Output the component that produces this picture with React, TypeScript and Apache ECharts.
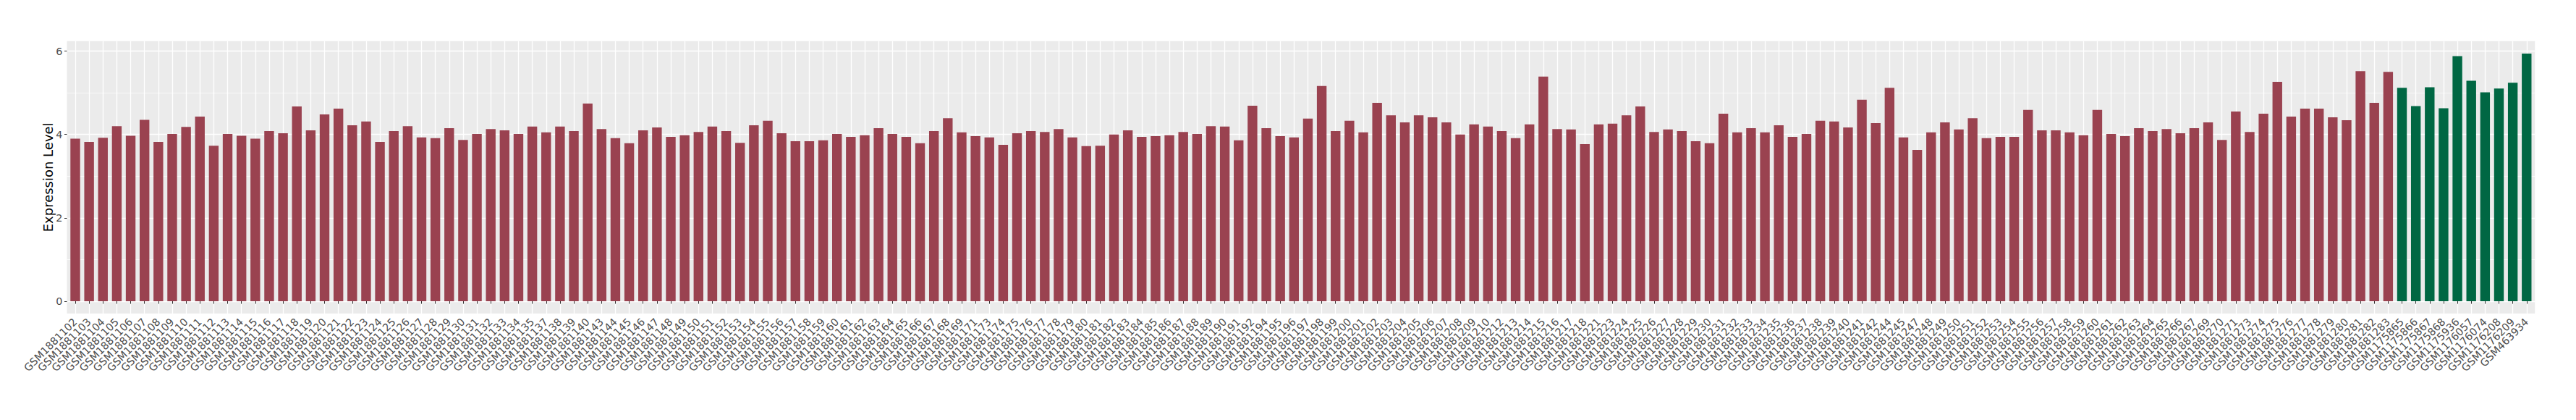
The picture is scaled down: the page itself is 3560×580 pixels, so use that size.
import React, { useEffect, useRef } from "react";
import * as echarts from "echarts";

const redSamples = [
  "GSM1881102","GSM1881103","GSM1881104","GSM1881105","GSM1881106","GSM1881107","GSM1881108","GSM1881109","GSM1881110","GSM1881111",
  "GSM1881112","GSM1881113","GSM1881114","GSM1881115","GSM1881116","GSM1881117","GSM1881118","GSM1881119","GSM1881120","GSM1881121",
  "GSM1881122","GSM1881123","GSM1881124","GSM1881125","GSM1881126","GSM1881127","GSM1881128","GSM1881129","GSM1881130","GSM1881131",
  "GSM1881132","GSM1881133","GSM1881134","GSM1881135","GSM1881137","GSM1881138","GSM1881139","GSM1881140","GSM1881143","GSM1881144",
  "GSM1881145","GSM1881146","GSM1881147","GSM1881148","GSM1881149","GSM1881150","GSM1881151","GSM1881152","GSM1881153","GSM1881154",
  "GSM1881155","GSM1881156","GSM1881157","GSM1881158","GSM1881159","GSM1881160","GSM1881161","GSM1881162","GSM1881163","GSM1881164",
  "GSM1881165","GSM1881166","GSM1881167","GSM1881168","GSM1881169","GSM1881171","GSM1881173","GSM1881174","GSM1881175","GSM1881176",
  "GSM1881177","GSM1881178","GSM1881179","GSM1881180","GSM1881181","GSM1881182","GSM1881183","GSM1881184","GSM1881185","GSM1881186",
  "GSM1881187","GSM1881188","GSM1881189","GSM1881190","GSM1881191","GSM1881192","GSM1881194","GSM1881195","GSM1881196","GSM1881197",
  "GSM1881198","GSM1881199","GSM1881200","GSM1881201","GSM1881202","GSM1881203","GSM1881204","GSM1881205","GSM1881206","GSM1881207",
  "GSM1881208","GSM1881209","GSM1881210","GSM1881212","GSM1881213","GSM1881214","GSM1881215","GSM1881216","GSM1881217","GSM1881218",
  "GSM1881221","GSM1881223","GSM1881224","GSM1881225","GSM1881226","GSM1881227","GSM1881228","GSM1881229","GSM1881230","GSM1881231",
  "GSM1881232","GSM1881233","GSM1881234","GSM1881235","GSM1881236","GSM1881237","GSM1881238","GSM1881239","GSM1881240","GSM1881241",
  "GSM1881242","GSM1881244","GSM1881245","GSM1881247","GSM1881248","GSM1881249","GSM1881250","GSM1881251","GSM1881252","GSM1881253",
  "GSM1881254","GSM1881255","GSM1881256","GSM1881257","GSM1881258","GSM1881259","GSM1881260","GSM1881261","GSM1881262","GSM1881263",
  "GSM1881264","GSM1881265","GSM1881266","GSM1881267","GSM1881269","GSM1881270","GSM1881271","GSM1881273","GSM1881274","GSM1881275",
  "GSM1881276","GSM1881277","GSM1881278","GSM1881279","GSM1881280","GSM1881281","GSM1881282","GSM1881283",
];

const redValues = [
  3.90, 3.82, 3.92, 4.20, 3.97, 4.35, 3.82, 4.01, 4.18, 4.43,
  3.73, 4.01, 3.97, 3.90, 4.08, 4.03, 4.67, 4.10, 4.48, 4.62,
  4.22, 4.31, 3.82, 4.08, 4.20, 3.93, 3.91, 4.15, 3.87, 4.01,
  4.13, 4.10, 4.01, 4.19, 4.05, 4.19, 4.08, 4.74, 4.13, 3.91,
  3.79, 4.10, 4.17, 3.94, 3.98, 4.06, 4.19, 4.08, 3.80, 4.22,
  4.33, 4.03, 3.84, 3.84, 3.86, 4.01, 3.94, 3.98, 4.15, 4.01,
  3.94, 3.79, 4.08, 4.39, 4.05, 3.96, 3.93, 3.75, 4.03, 4.08,
  4.06, 4.13, 3.93, 3.72, 3.73, 4.00, 4.10, 3.94, 3.96, 3.98,
  4.06, 4.01, 4.20, 4.19, 3.86, 4.69, 4.15, 3.96, 3.93, 4.38,
  5.16, 4.08, 4.33, 4.05, 4.76, 4.46, 4.29, 4.46, 4.41, 4.29,
  4.00, 4.24, 4.19, 4.08, 3.91, 4.24, 5.39, 4.13, 4.12, 3.77,
  4.24, 4.26, 4.46, 4.67, 4.06, 4.12, 4.08, 3.84, 3.79, 4.50,
  4.05, 4.15, 4.05, 4.22, 3.94, 4.01, 4.33, 4.31, 4.17, 4.83,
  4.27, 5.12, 3.93, 3.63, 4.05, 4.29, 4.12, 4.39, 3.91, 3.94,
  3.94, 4.59, 4.10, 4.10, 4.05, 3.98, 4.59, 4.01, 3.96, 4.15,
  4.08, 4.13, 4.03, 4.15, 4.29, 3.87, 4.55, 4.06, 4.50, 5.26,
  4.43, 4.62, 4.62, 4.41, 4.34, 5.52, 4.76, 5.50,
];

const greenSamples = [
  "GSM1175865","GSM1175866","GSM1175867","GSM1175868","GSM1175936",
  "GSM1176057","GSM1176074","GSM1176208","GSM1176209","GSM463934",
];

const greenValues = [5.12, 4.68, 5.13, 4.63, 5.88, 5.29, 5.01, 5.10, 5.24, 5.94];

const yMin = 0;
const yMax = 6;
const yInterval = 2;
const yTitle = "Expression Level";

const RED = "#9A4250";
const GREEN = "#006743";

export default function App() {
  const ref = useRef<HTMLDivElement>(null);

  useEffect(() => {
    if (!ref.current) return;
    const chart = echarts.init(ref.current, undefined, { renderer: "svg" });

    const categories = redSamples.concat(greenSamples);
    const values = redValues.concat(greenValues);
    const nRed = redSamples.length;
    const n = categories.length;

    // geometry (pixels)
    const step = 19.14;
    const firstCenter = 104;
    const panelLeft = firstCenter - 0.6 * step;
    const panelWidth = (n - 1 + 1.2) * step;
    const panelTop = 56.7;
    const panelBottom = 433;
    const zeroY = 416;
    const topY = 70.5;

    const font = "DejaVu Sans";
    const noAxis = { show: false };

    const option: any = {
      animation: false,
      backgroundColor: "#ffffff",
      grid: [
        {
          // panel background
          left: panelLeft,
          top: panelTop,
          width: panelWidth,
          height: panelBottom - panelTop,
          show: true,
          backgroundColor: "#EBEBEB",
          borderWidth: 0,
          outerBoundsMode: "none",
        },
        {
          // horizontal grid lines + y axis labels
          left: panelLeft,
          top: topY,
          width: panelWidth,
          height: zeroY - topY,
          outerBoundsMode: "none",
        },
        {
          // vertical grid lines at category centers
          left: firstCenter,
          top: panelTop,
          width: (n - 1) * step,
          height: panelBottom - panelTop,
          outerBoundsMode: "none",
        },
        {
          // bars
          left: firstCenter - 0.5 * step,
          top: topY,
          width: n * step,
          height: zeroY - topY,
          outerBoundsMode: "none",
        },
      ],
      xAxis: [
        { type: "value", gridIndex: 0, ...noAxis },
        { type: "value", gridIndex: 1, ...noAxis },
        {
          type: "category",
          gridIndex: 2,
          data: categories,
          boundaryGap: false,
          axisLine: { show: false },
          axisTick: { show: false },
          axisLabel: { show: false },
          splitLine: { show: true, interval: 0, lineStyle: { color: "#FFFFFF", width: 1.3 } },
        },
        {
          type: "category",
          gridIndex: 3,
          data: categories,
          boundaryGap: true,
          offset: panelBottom - zeroY,
          axisLine: { show: false },
          axisTick: {
            show: true,
            alignWithLabel: true,
            interval: 0,
            length: 3.5,
            lineStyle: { color: "#333333", width: 1 },
          },
          axisLabel: {
            interval: 0,
            rotate: 45,
            margin: 9,
            fontSize: 14.4,
            fontFamily: font,
            color: "#4D4D4D",
          },
          splitLine: { show: false },
        },
      ],
      yAxis: [
        { type: "value", gridIndex: 0, ...noAxis },
        {
          type: "value",
          gridIndex: 1,
          min: yMin,
          max: yMax,
          interval: yInterval,
          axisLine: { show: false },
          axisTick: { show: true, length: 3.5, lineStyle: { color: "#333333", width: 1 } },
          axisLabel: { margin: 6, fontSize: 14.4, fontFamily: font, color: "#4D4D4D" },
          splitLine: { show: true, lineStyle: { color: "#FFFFFF", width: 1.3 } },
          minorTick: { show: false, splitNumber: 2 },
          minorSplitLine: { show: true, lineStyle: { color: "#FFFFFF", width: 0.7 } },
        },
        { type: "value", gridIndex: 2, ...noAxis },
        { type: "value", gridIndex: 3, min: yMin, max: yMax, ...noAxis },
      ],
      graphic: [
        {
          type: "text",
          x: 66,
          y: (panelTop + panelBottom) / 2,
          rotation: Math.PI / 2,
          style: {
            text: yTitle,
            fontSize: 18,
            fontFamily: font,
            fill: "#000000",
            align: "center",
            verticalAlign: "middle",
          },
        },
      ],
      series: [
        {
          type: "bar",
          xAxisIndex: 3,
          yAxisIndex: 3,
          barWidth: "70%",
          data: values.map((v, i) => ({
            value: v,
            itemStyle: { color: i < nRed ? RED : GREEN },
          })),
        },
      ],
    };

    chart.setOption(option);
    return () => {
      chart.dispose();
    };
  }, []);

  return (
    <div
      ref={ref}
      style={{ position: "fixed", left: 0, top: 0, width: "3560px", height: "580px" }}
    />
  );
}
